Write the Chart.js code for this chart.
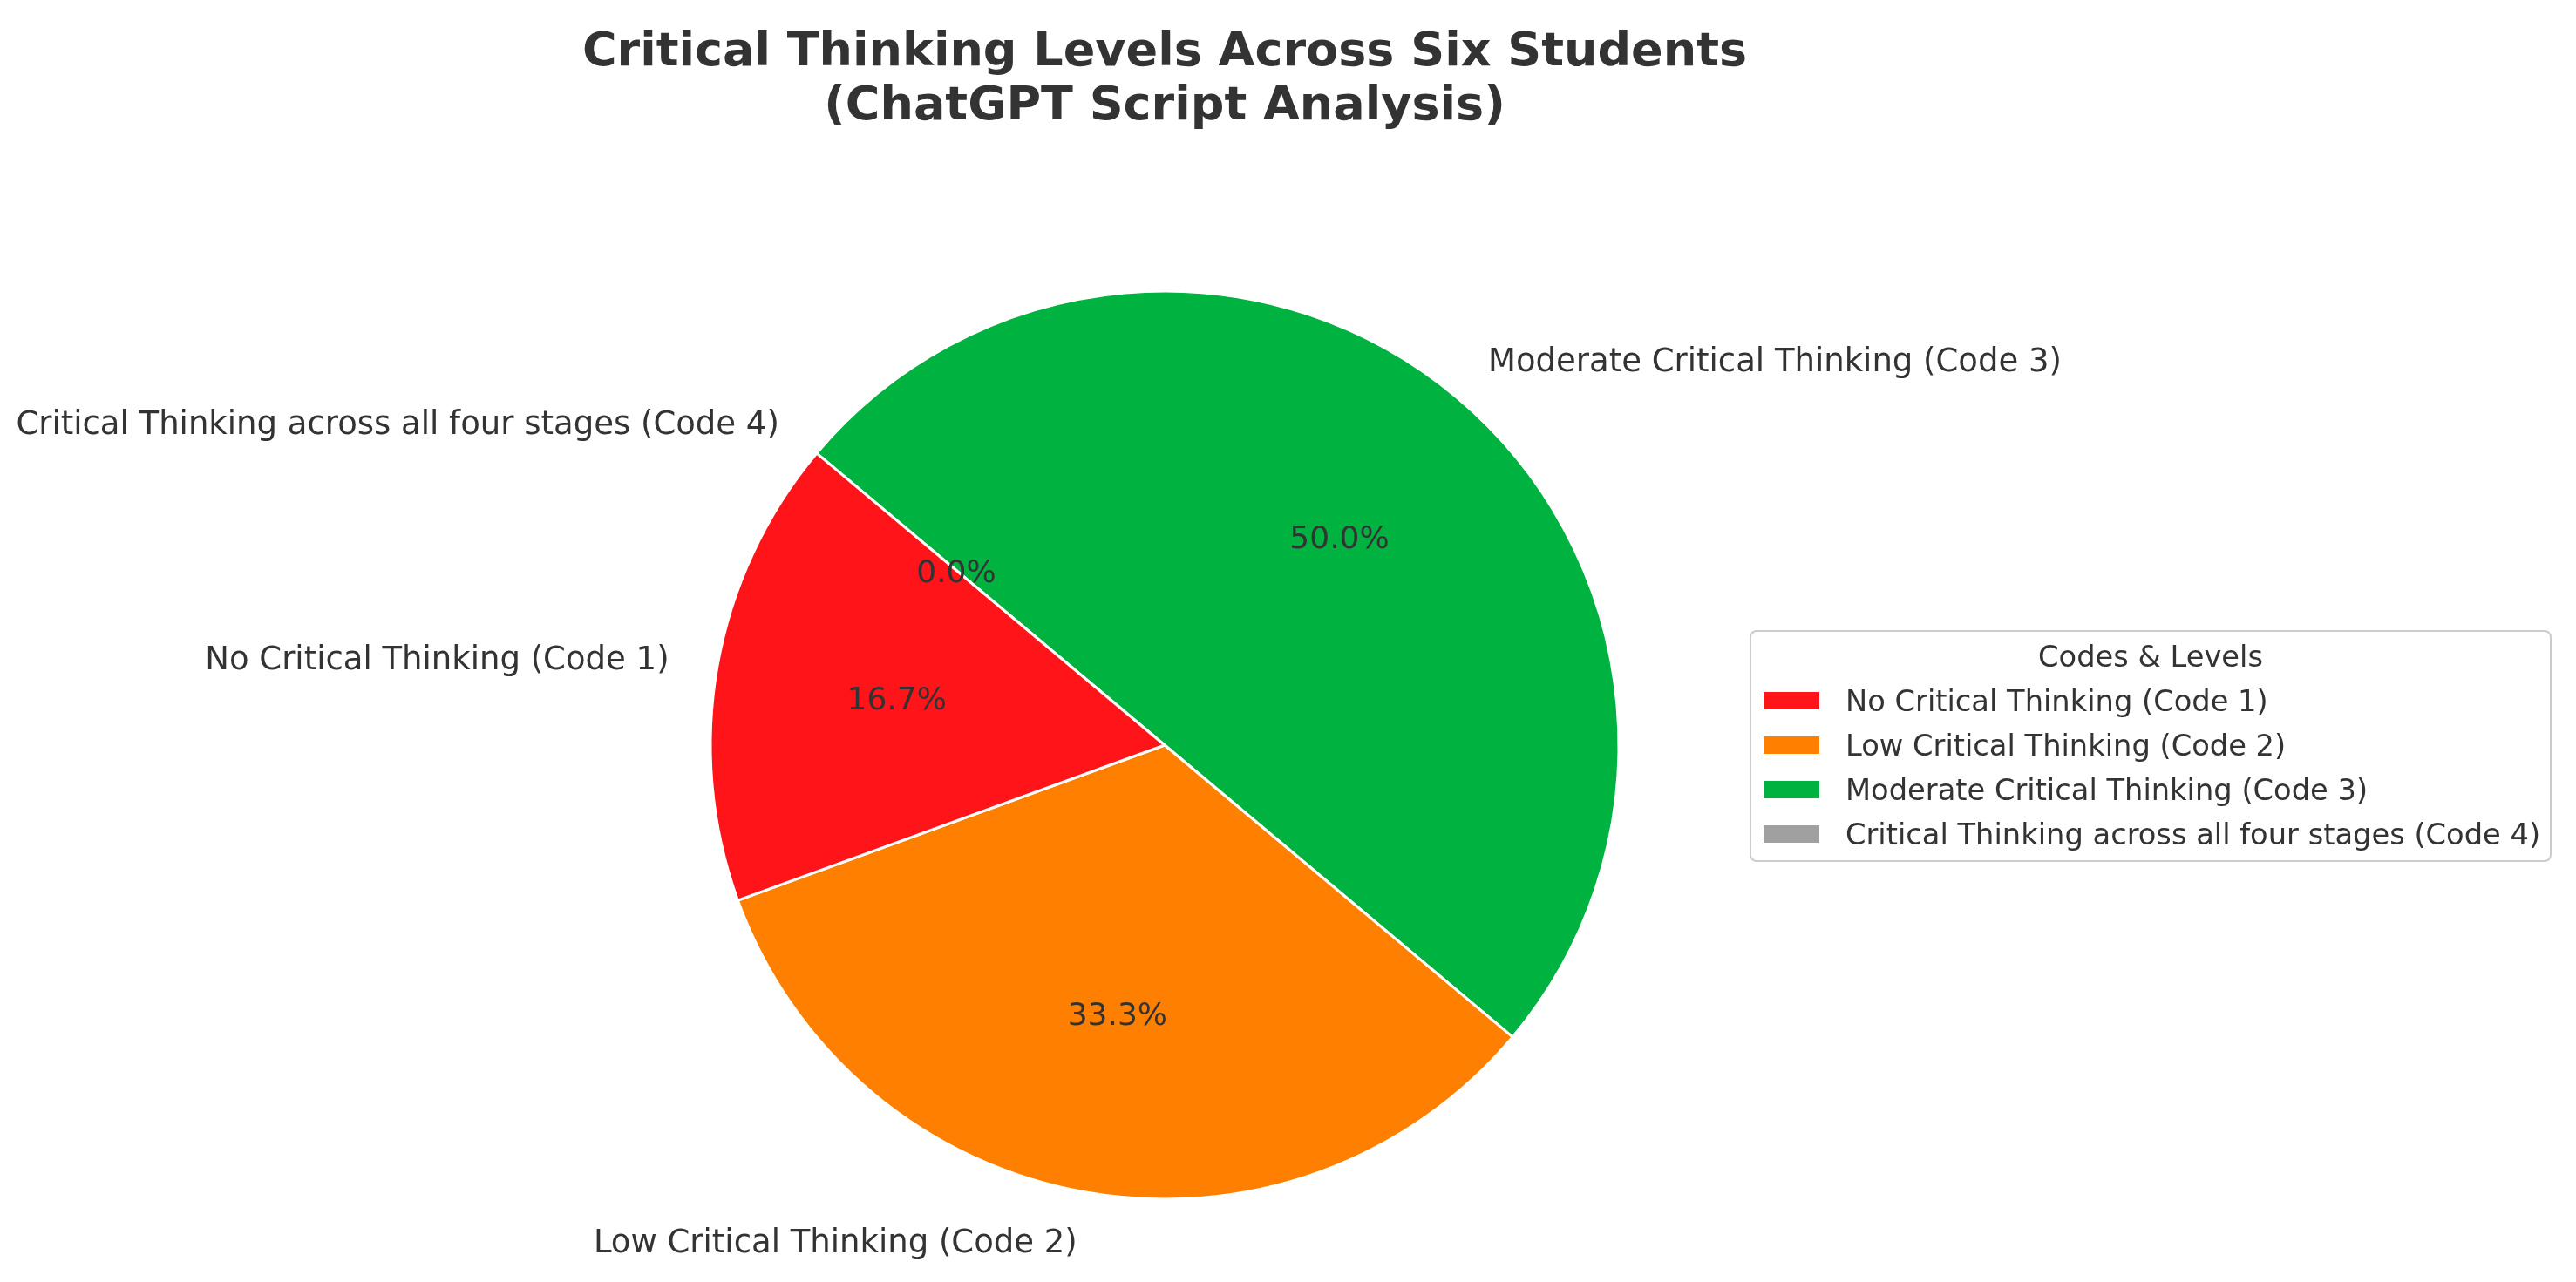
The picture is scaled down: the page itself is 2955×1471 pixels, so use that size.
<!DOCTYPE html>
<html>
<head>
<meta charset="utf-8">
<script src="https://cdn.jsdelivr.net/npm/chart.js@4.4.1/dist/chart.umd.min.js"></script>
<style>
  html, body { margin:0; padding:0; background:#fff; }
  canvas { display:block; }
</style>
</head>
<body>
<canvas id="graficoPizza" width="2955" height="1471"></canvas>
<script>
const categorias = [
    "No Critical Thinking (Code 1)",
    "Low Critical Thinking (Code 2)",
    "Moderate Critical Thinking (Code 3)",
    "Critical Thinking across all four stages (Code 4)"
];
const alunos = [1, 2, 3, 0];
const cores = ["#ff141a", "#ff8000", "#00b240", "#a0a0a0"];
const tituloLinhas = ["Critical Thinking Levels Across Six Students", "(ChatGPT Script Analysis)"];
const tituloLegenda = "Codes & Levels";

// chart.js desenha no sentido horario, a referencia e anti-horaria: inverte a ordem
const ordem = [3, 2, 1, 0];
const fonte = '"DejaVu Sans", sans-serif';

const textos = {
    id: 'textos',
    afterDatasetsDraw(chart){
        const ctx = chart.ctx;
        const meta = chart.getDatasetMeta(0);
        const total = alunos.reduce((s,v)=>s+v,0);
        const r = 520;
        ctx.save();
        ctx.fillStyle = '#333333';
        ctx.textBaseline = 'middle';
        meta.data.forEach((arc,k)=>{
            const i = ordem[k];
            const p = arc.getProps(['x','y','startAngle','endAngle'], true);
            const meio = (p.startAngle + p.endAngle)/2;
            const c = Math.cos(meio), s = Math.sin(meio);
            ctx.font = `37px ${fonte}`;
            ctx.textAlign = c > 0 ? 'left' : 'right';
            ctx.fillText(categorias[i], p.x + c*r*1.11, p.y + s*r*1.11 + 4);
            ctx.font = `36px ${fonte}`;
            ctx.textAlign = 'center';
            ctx.fillText((alunos[i]/total*100).toFixed(1)+'%', p.x + c*r*0.6, p.y + s*r*0.6 + 4);
        });
        ctx.restore();
    },
    afterDraw(chart){
        const ctx = chart.ctx;
        ctx.save();
        ctx.fillStyle = '#333333';
        ctx.textAlign = 'center';
        ctx.textBaseline = 'alphabetic';
        ctx.font = `bold 54px ${fonte}`;
        ctx.fillText(tituloLinhas[0], 1336, 75);
        ctx.fillText(tituloLinhas[1], 1336, 137);

        // legenda
        ctx.strokeStyle = '#cccccc';
        ctx.lineWidth = 2;
        ctx.beginPath();
        ctx.roundRect(2008, 724, 918, 264, 7);
        ctx.fillStyle = 'rgba(255,255,255,0.8)';
        ctx.fill();
        ctx.stroke();
        ctx.fillStyle = '#333333';
        ctx.font = `33.7px ${fonte}`;
        ctx.fillText(tituloLegenda, 2467, 765);
        ctx.textAlign = 'left';
        categorias.forEach((cat,i)=>{
            const yc = 804 + i*51;
            ctx.fillStyle = cores[i];
            ctx.fillRect(2023, yc-10, 64, 20);
            ctx.fillStyle = '#333333';
            ctx.fillText(cat, 2117, yc+12);
        });
        ctx.restore();
    }
};

const ctx = document.getElementById("graficoPizza").getContext("2d");
new Chart(ctx,{
    type:'pie',
    data:{
        labels: ordem.map(i=>categorias[i]),
        datasets:[{
            data: ordem.map(i=>alunos[i]),
            backgroundColor: ordem.map(i=>cores[i]),
            borderColor:'#ffffff',
            borderWidth:3
        }]
    },
    options:{
        responsive:false,
        animation:false,
        rotation:-50,
        radius:521,
        layout:{padding:{left:0, right:283, top:239, bottom:0}},
        plugins:{
            legend:{display:false},
            tooltip:{enabled:false},
            title:{display:false}
        }
    },
    plugins:[textos]
});
</script>
</body>
</html>
